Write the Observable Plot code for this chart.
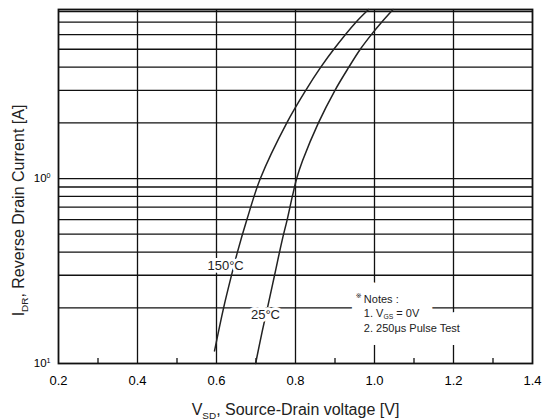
<!DOCTYPE html>
<html><head><meta charset="utf-8">
<script src="https://cdn.jsdelivr.net/npm/d3@7"></script>
<script src="https://cdn.jsdelivr.net/npm/@observablehq/plot@0.6"></script>
<style>
body{margin:0;background:#fff;}
#chart svg{display:block;}
</style>
</head><body><div id="chart"></div>
<script>
// ---- data ----
const xTicks = [0.2, 0.4, 0.6, 0.8, 1.0, 1.2, 1.4];
const xGrid = [0.4, 0.6, 0.8, 1.0, 1.2];
const xMinor = [0.3, 0.5, 0.7, 0.9, 1.1, 1.3];
const yGrid = [0.2, 0.3, 0.4, 0.5, 0.6, 0.7, 0.8, 0.9, 1, 2, 3, 4, 5, 6, 7, 8];
const yTickValues = [0.1, 1];
const yTickLabels = ["10^{1}", "10^{0}"];

// 150 °C curve: V_SD [V] vs I_DR [A]
const v150 = [0.595, 0.618, 0.639, 0.653, 0.677, 0.711, 0.778, 0.826, 0.864, 0.897, 0.953, 0.985];
const i150 = [0.117, 0.2, 0.306, 0.4, 0.6, 1, 2, 3, 4, 5, 7, 8.2];
// 25 °C curve
const v25 = [0.699, 0.716, 0.729, 0.747, 0.766, 0.779, 0.792, 0.803, 0.818, 0.858, 0.900, 0.935, 0.964, 0.992, 1.018, 1.047];
const i25 = [0.1, 0.15, 0.2, 0.3, 0.462, 0.6, 0.8, 1, 1.25, 2, 3, 4, 5, 6, 7, 8.2];

const curveLabels = ["150°C", "25°C"];
const notesMark = ["※"];
const notesLines = ["Notes :", "1. V_{GS} = 0V", "2. 250μs Pulse Test"];
const xTitle = ["V_{SD}, Source-Drain voltage [V]"];
const yTitle = ["I_{DR}, Reverse Drain Current [A]"];

const curve150 = v150.map((v, k) => ({v, i: i150[k]}));
const curve25 = v25.map((v, k) => ({v, i: i25[k]}));

const FONT = '"Liberation Sans", Arial, sans-serif';
const INK = "#111";
const halo = {fill: "none", stroke: "white", strokeLinejoin: "round"};

const chart = Plot.plot({
  width: 547,
  height: 419,
  marginLeft: 58,
  marginRight: 15,
  marginTop: 9,
  marginBottom: 56,
  style: {fontFamily: FONT, background: "white", color: "black"},
  x: {domain: [0.2, 1.4]},
  y: {type: "log", domain: [0.1, 8.2]},
  marks: [
    Plot.ruleY(yGrid, {stroke: INK, strokeWidth: 1.3}),
    Plot.ruleX(xGrid, {stroke: INK, strokeWidth: 1.3}),
    Plot.ruleX(xMinor, {stroke: INK, strokeWidth: 1.3, insetTop: 349}),
    Plot.frame({stroke: INK, strokeWidth: 1.8}),
    Plot.axisX({ticks: xTicks, tickSize: 0, tickPadding: 12, fontSize: 13,
      tickFormat: d => d.toFixed(1), label: null}),
    Plot.axisY({ticks: yTickValues, tickSize: 0, tickPadding: 8, fontSize: 11.5,
      tickFormat: d => yTickLabels[yTickValues.indexOf(d)], label: null}),
    Plot.line(curve150, {x: "v", y: "i", curve: "catmull-rom", stroke: "#222", strokeWidth: 1.5}),
    Plot.line(curve25, {x: "v", y: "i", curve: "catmull-rom", stroke: "#222", strokeWidth: 1.5}),
    // curve labels (white halo first, then the text)
    Plot.text([curveLabels[0]], {x: 0.623, y: 0.338, text: d => d, fontSize: 13, ...halo, strokeWidth: 6}),
    Plot.text([curveLabels[1]], {x: 0.724, y: 0.184, text: d => d, fontSize: 13, ...halo, strokeWidth: 6}),
    Plot.text([curveLabels[0]], {x: 0.623, y: 0.338, text: d => d, fontSize: 13, fill: "#222"}),
    Plot.text([curveLabels[1]], {x: 0.724, y: 0.184, text: d => d, fontSize: 13, fill: "#222"}),
    // notes block
    Plot.text([notesLines.join("\n")], {x: 0.973, y: 0.189, text: d => d, textAnchor: "start",
      lineAnchor: "middle", lineHeight: 1.32, fontSize: 11, ...halo, strokeWidth: 26}),
    Plot.text([notesLines.join("\n")], {x: 0.973, y: 0.189, text: d => d, textAnchor: "start",
      lineAnchor: "middle", lineHeight: 1.32, fontSize: 11, fill: "#222"}),
    Plot.text(notesMark, {x: 0.973, y: 0.189, dx: -8, dy: -17, text: d => d, fontSize: 7,
      fontFamily: "DejaVu Sans", textAnchor: "start", fill: "#222"}),
    // axis titles
    Plot.text(xTitle, {frameAnchor: "bottom", dy: 51, text: d => d, fontSize: 16, fill: "#222"}),
    Plot.text(yTitle, {frameAnchor: "left", textAnchor: "middle", dx: -40, dy: 24, rotate: -90,
      text: d => d, fontSize: 16, fill: "#222", letterSpacing: 0.6})
  ]
});

// turn _{..} and ^{..} into real subscript / superscript tspans
function richify(svg) {
  const ns = "http://www.w3.org/2000/svg";
  svg.querySelectorAll("text, tspan").forEach(el => {
    if (el.children.length) return;
    const s = el.textContent;
    if (!/[_^]\{/.test(s)) return;
    el.textContent = "";
    const re = /([_^])\{([^}]*)\}/g;
    let last = 0, m;
    while ((m = re.exec(s))) {
      if (m.index > last) {
        const p = document.createElementNS(ns, "tspan");
        p.textContent = s.slice(last, m.index);
        el.appendChild(p);
      }
      const t = document.createElementNS(ns, "tspan");
      t.textContent = m[2];
      t.setAttribute("font-size", "0.62em");
      t.setAttribute("baseline-shift", m[1] === "_" ? "-35%" : "55%");
      el.appendChild(t);
      last = re.lastIndex;
    }
    if (last < s.length) {
      const p = document.createElementNS(ns, "tspan");
      p.textContent = s.slice(last);
      el.appendChild(p);
    }
  });
}
richify(chart);
document.getElementById("chart").appendChild(chart);
</script>
</body></html>
